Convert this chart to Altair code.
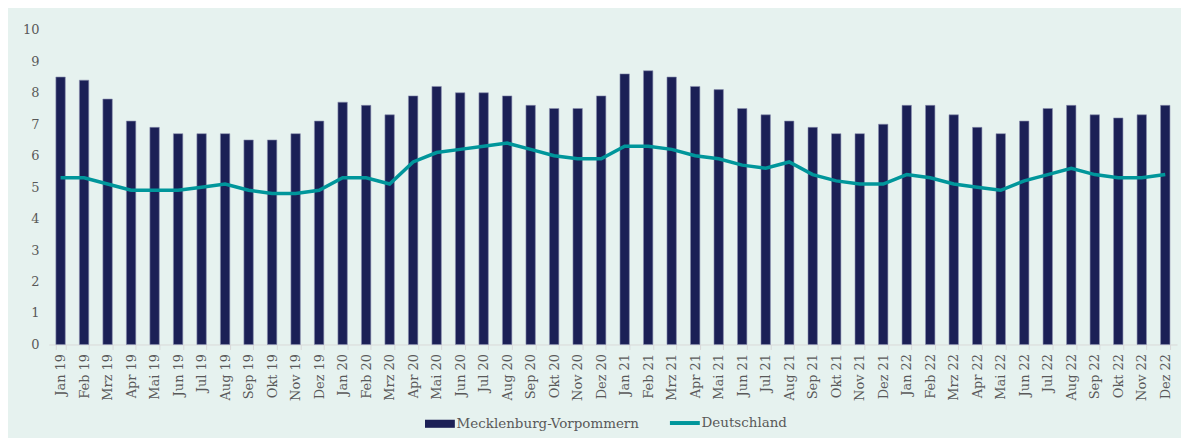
import altair as alt
import pandas as pd

months = ["Jan 19","Feb 19","Mrz 19","Apr 19","Mai 19","Jun 19","Jul 19","Aug 19","Sep 19","Okt 19","Nov 19","Dez 19",
          "Jan 20","Feb 20","Mrz 20","Apr 20","Mai 20","Jun 20","Jul 20","Aug 20","Sep 20","Okt 20","Nov 20","Dez 20",
          "Jan 21","Feb 21","Mrz 21","Apr 21","Mai 21","Jun 21","Jul 21","Aug 21","Sep 21","Okt 21","Nov 21","Dez 21",
          "Jan 22","Feb 22","Mrz 22","Apr 22","Mai 22","Jun 22","Jul 22","Aug 22","Sep 22","Okt 22","Nov 22","Dez 22"]

mv = [8.5, 8.4, 7.8, 7.1, 6.9, 6.7, 6.7, 6.7, 6.5, 6.5, 6.7, 7.1,
      7.7, 7.6, 7.3, 7.9, 8.2, 8.0, 8.0, 7.9, 7.6, 7.5, 7.5, 7.9,
      8.6, 8.7, 8.5, 8.2, 8.1, 7.5, 7.3, 7.1, 6.9, 6.7, 6.7, 7.0,
      7.6, 7.6, 7.3, 6.9, 6.7, 7.1, 7.5, 7.6, 7.3, 7.2, 7.3, 7.6]

de = [5.3, 5.3, 5.1, 4.9, 4.9, 4.9, 5.0, 5.1, 4.9, 4.8, 4.8, 4.9,
      5.3, 5.3, 5.1, 5.8, 6.1, 6.2, 6.3, 6.4, 6.2, 6.0, 5.9, 5.9,
      6.3, 6.3, 6.2, 6.0, 5.9, 5.7, 5.6, 5.8, 5.4, 5.2, 5.1, 5.1,
      5.4, 5.3, 5.1, 5.0, 4.9, 5.2, 5.4, 5.6, 5.4, 5.3, 5.3, 5.4]

series = ["Mecklenburg-Vorpommern", "Deutschland"]
colors = ["#1B2056", "#00969B"]
y_ticks = list(range(0, 11))

df_mv = pd.DataFrame({"Monat": months, "Wert": mv, "Reihe": series[0]})
df_de = pd.DataFrame({"Monat": months, "Wert": de, "Reihe": series[1]})

FONT = "DejaVu Serif"
GREY = "#595959"

is_de = "datum.value === 'Deutschland'"
legend = alt.Legend(
    title=None, orient="none", direction="horizontal", legendX=386, legendY=388,
    labelFont=FONT, labelFontSize=13.5, labelColor=GREY, labelOffset=10, labelLimit=400,
    symbolSize=900, columnPadding=22, symbolOpacity=1,
    symbolType=alt.ExprRef(expr=f"{is_de} ? 'M-1,0L1,0' : 'M-1,-0.27L1,-0.27L1,0.27L-1,0.27Z'"),
    symbolStrokeWidth=alt.ExprRef(expr=f"{is_de} ? 4 : 0"),
)

color = alt.Color("Reihe:N", scale=alt.Scale(domain=series, range=colors), legend=legend)

x = alt.X("Monat:N", sort=months, title=None,
          scale=alt.Scale(paddingInner=0.6, paddingOuter=0.3),
          axis=alt.Axis(labelAngle=270, labelAlign="right", labelBaseline="middle",
                        labelFont=FONT, labelFontSize=13, labelColor=GREY,
                        labelPadding=4, tickSize=5, tickBand="extent",
                        domainColor="#D9D9D9", tickColor="#D9D9D9", grid=False))
y = alt.Y("Wert:Q", title=None, scale=alt.Scale(domain=[0, 10], nice=False),
          axis=alt.Axis(values=y_ticks, grid=False, domain=False, ticks=False,
                        labelFont=FONT, labelFontSize=13, labelColor=GREY, labelPadding=10))

bars = alt.Chart(df_mv).mark_bar(stroke="#8A90B0", strokeWidth=0.6).encode(x=x, y=y, color=color)
line = alt.Chart(df_de).mark_line(strokeWidth=3.5, interpolate="linear").encode(x=x, y=y, color=color)

chart = alt.layer(bars, line).properties(
    width=1133, height=316,
    background="#E6F2EF",
    autosize=alt.AutoSizeParams(type="none"),
    padding={"left": 41, "top": 21, "right": 4, "bottom": 93},
).configure_view(stroke=None)

chart.save("out.html", embed_options={"renderer": "svg", "actions": False})
